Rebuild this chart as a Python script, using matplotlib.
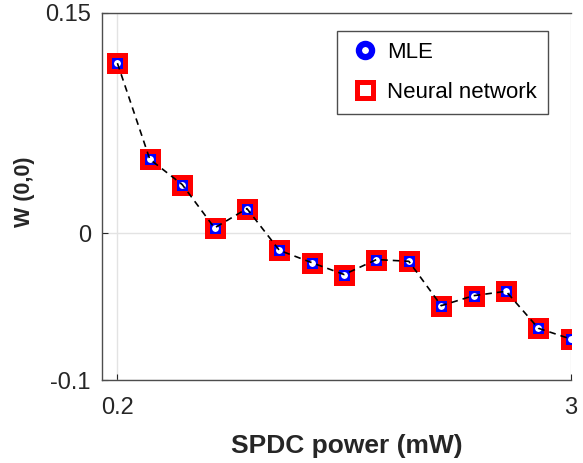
import numpy as np
import matplotlib.pyplot as plt

plt.rcParams['font.family'] = ['Liberation Sans', 'DejaVu Sans']

power = [0.2, 0.4, 0.6, 0.8, 1.0, 1.2, 1.4, 1.6, 1.8, 2.0, 2.2, 2.4, 2.6, 2.8, 3.0]
w_mle = [0.1158, 0.0504, 0.0332, 0.0036, 0.0168, -0.0116, -0.0200, -0.0281,
         -0.0179, -0.0191, -0.0493, -0.0425, -0.0395, -0.0647, -0.0720]
w_nn = [0.1158, 0.0504, 0.0332, 0.0036, 0.0168, -0.0116, -0.0200, -0.0281,
        -0.0179, -0.0191, -0.0493, -0.0425, -0.0395, -0.0647, -0.0720]

txt = '#262626'
fig = plt.figure(figsize=(5.83, 4.63), dpi=100)
ax = fig.add_axes([0.175, 0.179, 0.804, 0.793])

ax.plot(power, w_mle, 'o', color='blue', markersize=9.5, markeredgewidth=4.5,
        markerfacecolor='white', label='MLE', zorder=3)
ax.plot(power, w_nn, 's', color='red', markersize=12, markeredgewidth=3.6,
        markerfacecolor='none', label='Neural network', zorder=4)
ax.plot(power, w_mle, '--', color='black', linewidth=1.2, dashes=(4, 3), zorder=5)

ax.set_xlim(0.105, 3.0)
ax.set_ylim(-0.1, 0.15)
ax.set_xticks([0.2, 3])
ax.set_xticklabels(['0.2', '3'])
ax.set_yticks([-0.1, 0, 0.15])
ax.set_yticklabels(['-0.1', '0', '0.15'])
ax.grid(True, color='#e3e3e3', linewidth=1)
ax.set_axisbelow(True)
ax.tick_params(direction='in', length=4, labelsize=17, colors=txt)
ax.tick_params(axis='x', pad=12)
ax.tick_params(axis='y', pad=8)

for s in ['left', 'bottom', 'top']:
    ax.spines[s].set_color('#4d4d4d')
    ax.spines[s].set_linewidth(1)
ax.spines['right'].set_visible(False)

ax.set_xlabel('SPDC power (mW)', fontsize=19, fontweight='bold', color=txt)
ax.xaxis.set_label_coords(0.522, -0.148)
ax.set_ylabel('W (0,0)', fontsize=15.5, fontweight='bold', color=txt)
ax.yaxis.set_label_coords(-0.143, 0.512)

leg = ax.legend(loc='upper right', bbox_to_anchor=(0.951, 0.951), borderaxespad=0,
                fontsize=16, fancybox=False, framealpha=1, edgecolor='#4d4d4d',
                handlelength=1.55, handletextpad=0.2, borderpad=0.5, labelspacing=0.85)
leg.get_frame().set_linewidth(1)

fig.savefig('out.png', dpi=100)
